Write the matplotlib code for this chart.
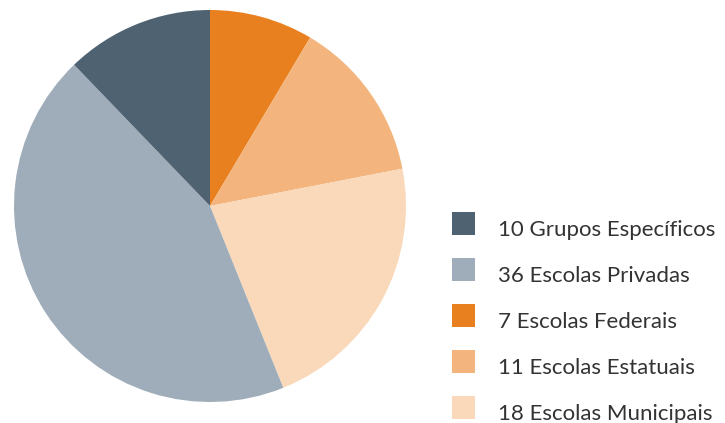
import matplotlib
matplotlib.use("Agg")
import matplotlib.pyplot as plt
from matplotlib.patches import Rectangle

# Legend order
labels = ["Grupos Específicos", "Escolas Privadas", "Escolas Federais",
          "Escolas Estatuais", "Escolas Municipais"]
values = [10, 36, 7, 11, 18]
colors = ["#4f6271", "#9eadb9", "#e9801f", "#f3b57d", "#f9d9b9"]

# Pie drawing order (clockwise from 12 o'clock)
pie_order = [2, 3, 4, 1, 0]

W, H = 725, 423
fig = plt.figure(figsize=(W / 100, H / 100), dpi=100)
fig.patch.set_facecolor("white")

cx, cy, r = 210, 206, 196
ax = fig.add_axes([(cx - r) / W, (H - cy - r) / H, 2 * r / W, 2 * r / H])
ax.pie([values[i] for i in pie_order],
       colors=[colors[i] for i in pie_order],
       startangle=90, counterclock=False, radius=1,
       wedgeprops=dict(linewidth=0))
ax.set_xlim(-1, 1)
ax.set_ylim(-1, 1)
ax.set_aspect("equal")
ax.axis("off")

# Manual legend (pixel layout)
sq_x, sq_size = 452, 23
row0_top, row_step = 212, 45.9
text_x = 498
for i, (v, l, c) in enumerate(zip(values, labels, colors)):
    top = row0_top + i * row_step
    bottom = top + sq_size
    fig.add_artist(Rectangle((sq_x / W, 1 - bottom / H), sq_size / W, sq_size / H,
                             transform=fig.transFigure, facecolor=c,
                             edgecolor="none"))
    fig.text(text_x / W, 1 - (bottom + 1) / H, f"{v} {l}",
             family="Lato", fontsize=16, color="#333333",
             ha="left", va="baseline")

fig.savefig("out.png", dpi=100, facecolor="white")
